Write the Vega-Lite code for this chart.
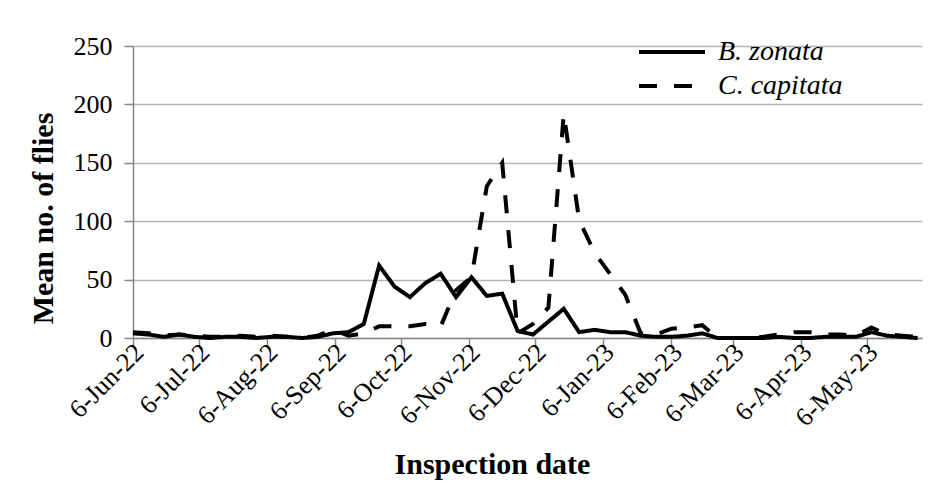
{
  "$schema": "https://vega.github.io/schema/vega-lite/v6.json",
  "autosize": {"type": "none"},
  "padding": {"left": 133, "top": 46, "right": 27, "bottom": 146},
  "width": 789,
  "height": 292,
  "background": "white",
  "config": {
    "view": {"stroke": null},
    "font": "Liberation Serif",
    "axis": {"labelFont": "Liberation Serif", "titleFont": "Liberation Serif", "labelColor": "black", "titleColor": "black"}
  },
  "data": {
    "values": [
      {"date": "2022/06/06", "species": "B. zonata", "flies": 4},
      {"date": "2022/06/13", "species": "B. zonata", "flies": 3},
      {"date": "2022/06/20", "species": "B. zonata", "flies": 1},
      {"date": "2022/06/27", "species": "B. zonata", "flies": 3},
      {"date": "2022/07/04", "species": "B. zonata", "flies": 1},
      {"date": "2022/07/11", "species": "B. zonata", "flies": 0},
      {"date": "2022/07/18", "species": "B. zonata", "flies": 1},
      {"date": "2022/07/25", "species": "B. zonata", "flies": 1},
      {"date": "2022/08/01", "species": "B. zonata", "flies": 0},
      {"date": "2022/08/08", "species": "B. zonata", "flies": 1},
      {"date": "2022/08/15", "species": "B. zonata", "flies": 1},
      {"date": "2022/08/22", "species": "B. zonata", "flies": 0},
      {"date": "2022/08/29", "species": "B. zonata", "flies": 1},
      {"date": "2022/09/05", "species": "B. zonata", "flies": 4},
      {"date": "2022/09/12", "species": "B. zonata", "flies": 5},
      {"date": "2022/09/19", "species": "B. zonata", "flies": 12},
      {"date": "2022/09/26", "species": "B. zonata", "flies": 62},
      {"date": "2022/10/03", "species": "B. zonata", "flies": 44},
      {"date": "2022/10/10", "species": "B. zonata", "flies": 35},
      {"date": "2022/10/17", "species": "B. zonata", "flies": 47},
      {"date": "2022/10/24", "species": "B. zonata", "flies": 55},
      {"date": "2022/10/31", "species": "B. zonata", "flies": 35},
      {"date": "2022/11/07", "species": "B. zonata", "flies": 52},
      {"date": "2022/11/14", "species": "B. zonata", "flies": 36},
      {"date": "2022/11/21", "species": "B. zonata", "flies": 38},
      {"date": "2022/11/28", "species": "B. zonata", "flies": 6},
      {"date": "2022/12/05", "species": "B. zonata", "flies": 3},
      {"date": "2022/12/12", "species": "B. zonata", "flies": 14},
      {"date": "2022/12/19", "species": "B. zonata", "flies": 25},
      {"date": "2022/12/26", "species": "B. zonata", "flies": 5},
      {"date": "2023/01/02", "species": "B. zonata", "flies": 7},
      {"date": "2023/01/09", "species": "B. zonata", "flies": 5},
      {"date": "2023/01/16", "species": "B. zonata", "flies": 5},
      {"date": "2023/01/23", "species": "B. zonata", "flies": 2},
      {"date": "2023/01/30", "species": "B. zonata", "flies": 1},
      {"date": "2023/02/06", "species": "B. zonata", "flies": 1},
      {"date": "2023/02/13", "species": "B. zonata", "flies": 2},
      {"date": "2023/02/20", "species": "B. zonata", "flies": 4},
      {"date": "2023/02/27", "species": "B. zonata", "flies": 0},
      {"date": "2023/03/06", "species": "B. zonata", "flies": 0},
      {"date": "2023/03/13", "species": "B. zonata", "flies": 0},
      {"date": "2023/03/20", "species": "B. zonata", "flies": 0},
      {"date": "2023/03/27", "species": "B. zonata", "flies": 1},
      {"date": "2023/04/03", "species": "B. zonata", "flies": 0},
      {"date": "2023/04/10", "species": "B. zonata", "flies": 0},
      {"date": "2023/04/17", "species": "B. zonata", "flies": 1},
      {"date": "2023/04/24", "species": "B. zonata", "flies": 1},
      {"date": "2023/05/01", "species": "B. zonata", "flies": 1},
      {"date": "2023/05/08", "species": "B. zonata", "flies": 5},
      {"date": "2023/05/15", "species": "B. zonata", "flies": 2},
      {"date": "2023/05/22", "species": "B. zonata", "flies": 1},
      {"date": "2023/05/29", "species": "B. zonata", "flies": 0},
      {"date": "2022/06/06", "species": "C. capitata", "flies": 5},
      {"date": "2022/06/13", "species": "C. capitata", "flies": 4},
      {"date": "2022/06/20", "species": "C. capitata", "flies": 2},
      {"date": "2022/06/27", "species": "C. capitata", "flies": 3},
      {"date": "2022/07/04", "species": "C. capitata", "flies": 2},
      {"date": "2022/07/11", "species": "C. capitata", "flies": 1},
      {"date": "2022/07/18", "species": "C. capitata", "flies": 1},
      {"date": "2022/07/25", "species": "C. capitata", "flies": 2},
      {"date": "2022/08/01", "species": "C. capitata", "flies": 1},
      {"date": "2022/08/08", "species": "C. capitata", "flies": 2},
      {"date": "2022/08/15", "species": "C. capitata", "flies": 1},
      {"date": "2022/08/22", "species": "C. capitata", "flies": 0},
      {"date": "2022/08/29", "species": "C. capitata", "flies": 2},
      {"date": "2022/09/05", "species": "C. capitata", "flies": 7},
      {"date": "2022/09/12", "species": "C. capitata", "flies": 2},
      {"date": "2022/09/19", "species": "C. capitata", "flies": 4},
      {"date": "2022/09/26", "species": "C. capitata", "flies": 10},
      {"date": "2022/10/03", "species": "C. capitata", "flies": 10},
      {"date": "2022/10/10", "species": "C. capitata", "flies": 10},
      {"date": "2022/10/17", "species": "C. capitata", "flies": 12},
      {"date": "2022/10/24", "species": "C. capitata", "flies": 10},
      {"date": "2022/10/31", "species": "C. capitata", "flies": 41},
      {"date": "2022/11/07", "species": "C. capitata", "flies": 52},
      {"date": "2022/11/14", "species": "C. capitata", "flies": 130},
      {"date": "2022/11/21", "species": "C. capitata", "flies": 150},
      {"date": "2022/11/28", "species": "C. capitata", "flies": 4},
      {"date": "2022/12/05", "species": "C. capitata", "flies": 12},
      {"date": "2022/12/12", "species": "C. capitata", "flies": 26},
      {"date": "2022/12/19", "species": "C. capitata", "flies": 192},
      {"date": "2022/12/26", "species": "C. capitata", "flies": 101},
      {"date": "2023/01/02", "species": "C. capitata", "flies": 73},
      {"date": "2023/01/09", "species": "C. capitata", "flies": 55},
      {"date": "2023/01/16", "species": "C. capitata", "flies": 37},
      {"date": "2023/01/23", "species": "C. capitata", "flies": 4},
      {"date": "2023/01/30", "species": "C. capitata", "flies": 3},
      {"date": "2023/02/06", "species": "C. capitata", "flies": 8},
      {"date": "2023/02/13", "species": "C. capitata", "flies": 9},
      {"date": "2023/02/20", "species": "C. capitata", "flies": 11},
      {"date": "2023/02/27", "species": "C. capitata", "flies": 0},
      {"date": "2023/03/06", "species": "C. capitata", "flies": 0},
      {"date": "2023/03/13", "species": "C. capitata", "flies": 0},
      {"date": "2023/03/20", "species": "C. capitata", "flies": 1},
      {"date": "2023/03/27", "species": "C. capitata", "flies": 3},
      {"date": "2023/04/03", "species": "C. capitata", "flies": 5},
      {"date": "2023/04/10", "species": "C. capitata", "flies": 5},
      {"date": "2023/04/17", "species": "C. capitata", "flies": 3},
      {"date": "2023/04/24", "species": "C. capitata", "flies": 3},
      {"date": "2023/05/01", "species": "C. capitata", "flies": 2},
      {"date": "2023/05/08", "species": "C. capitata", "flies": 9},
      {"date": "2023/05/15", "species": "C. capitata", "flies": 3},
      {"date": "2023/05/22", "species": "C. capitata", "flies": 2},
      {"date": "2023/05/29", "species": "C. capitata", "flies": 1}
    ]
  },
  "mark": {"type": "line", "color": "black", "strokeWidth": 4, "strokeJoin": "miter", "clip": false},
  "encoding": {
    "x": {
      "field": "date",
      "type": "temporal",
      "scale": {"domain": [{"year": 2022, "month": 6, "date": 6}, {"year": 2023, "month": 5, "date": 31}]},
      "axis": {
        "values": [
          {"year": 2022, "month": 6, "date": 6}, {"year": 2022, "month": 7, "date": 6},
          {"year": 2022, "month": 8, "date": 6}, {"year": 2022, "month": 9, "date": 6},
          {"year": 2022, "month": 10, "date": 6}, {"year": 2022, "month": 11, "date": 6},
          {"year": 2022, "month": 12, "date": 6}, {"year": 2023, "month": 1, "date": 6},
          {"year": 2023, "month": 2, "date": 6}, {"year": 2023, "month": 3, "date": 6},
          {"year": 2023, "month": 4, "date": 6}, {"year": 2023, "month": 5, "date": 6}
        ],
        "format": "%-d-%b-%y",
        "labelAngle": -45,
        "labelAlign": "right",
        "labelBaseline": "middle",
        "labelFontSize": 26,
        "labelPadding": 2,
        "labelOffset": 6,
        "labelOverlap": false,
        "labelBound": false,
        "labelFlush": false,
        "grid": false,
        "domainColor": "#868686",
        "domainWidth": 1.5,
        "tickColor": "#868686",
        "tickWidth": 1.5,
        "tickSize": 8,
        "title": "Inspection date",
        "titleFontSize": 30,
        "titleFontWeight": "bold",
        "titleX": 359,
        "titleY": 135,
        "titleAlign": "center",
        "titleBaseline": "alphabetic"
      }
    },
    "y": {
      "field": "flies",
      "type": "quantitative",
      "scale": {"domain": [0, 250], "nice": false},
      "axis": {
        "values": [0, 50, 100, 150, 200, 250],
        "labelFontSize": 26,
        "labelPadding": 12,
        "grid": true,
        "gridColor": "#b3b3b3",
        "gridWidth": 1.5,
        "domainColor": "#868686",
        "domainWidth": 1.5,
        "tickColor": "#868686",
        "tickWidth": 1.5,
        "tickSize": 9,
        "title": "Mean no. of flies",
        "titleFontSize": 30,
        "titleFontWeight": "bold",
        "titleX": -81,
        "titleY": 172,
        "titleAngle": -90,
        "titleAlign": "center",
        "titleBaseline": "alphabetic"
      }
    },
    "strokeDash": {
      "field": "species",
      "type": "nominal",
      "scale": {"domain": ["B. zonata", "C. capitata"], "range": [[1, 0], [18, 17]]},
      "legend": {
        "title": null,
        "orient": "none",
        "legendX": 525,
        "legendY": -8,
        "symbolType": "M-3,0H3",
        "symbolSize": 484,
        "symbolStrokeWidth": 4,
        "symbolStrokeColor": "black",
        "labelFont": "Liberation Serif",
        "labelFontStyle": "italic",
        "labelFontSize": 28,
        "labelColor": "black",
        "labelOffset": 32,
        "rowPadding": 6
      }
    }
  }
}
